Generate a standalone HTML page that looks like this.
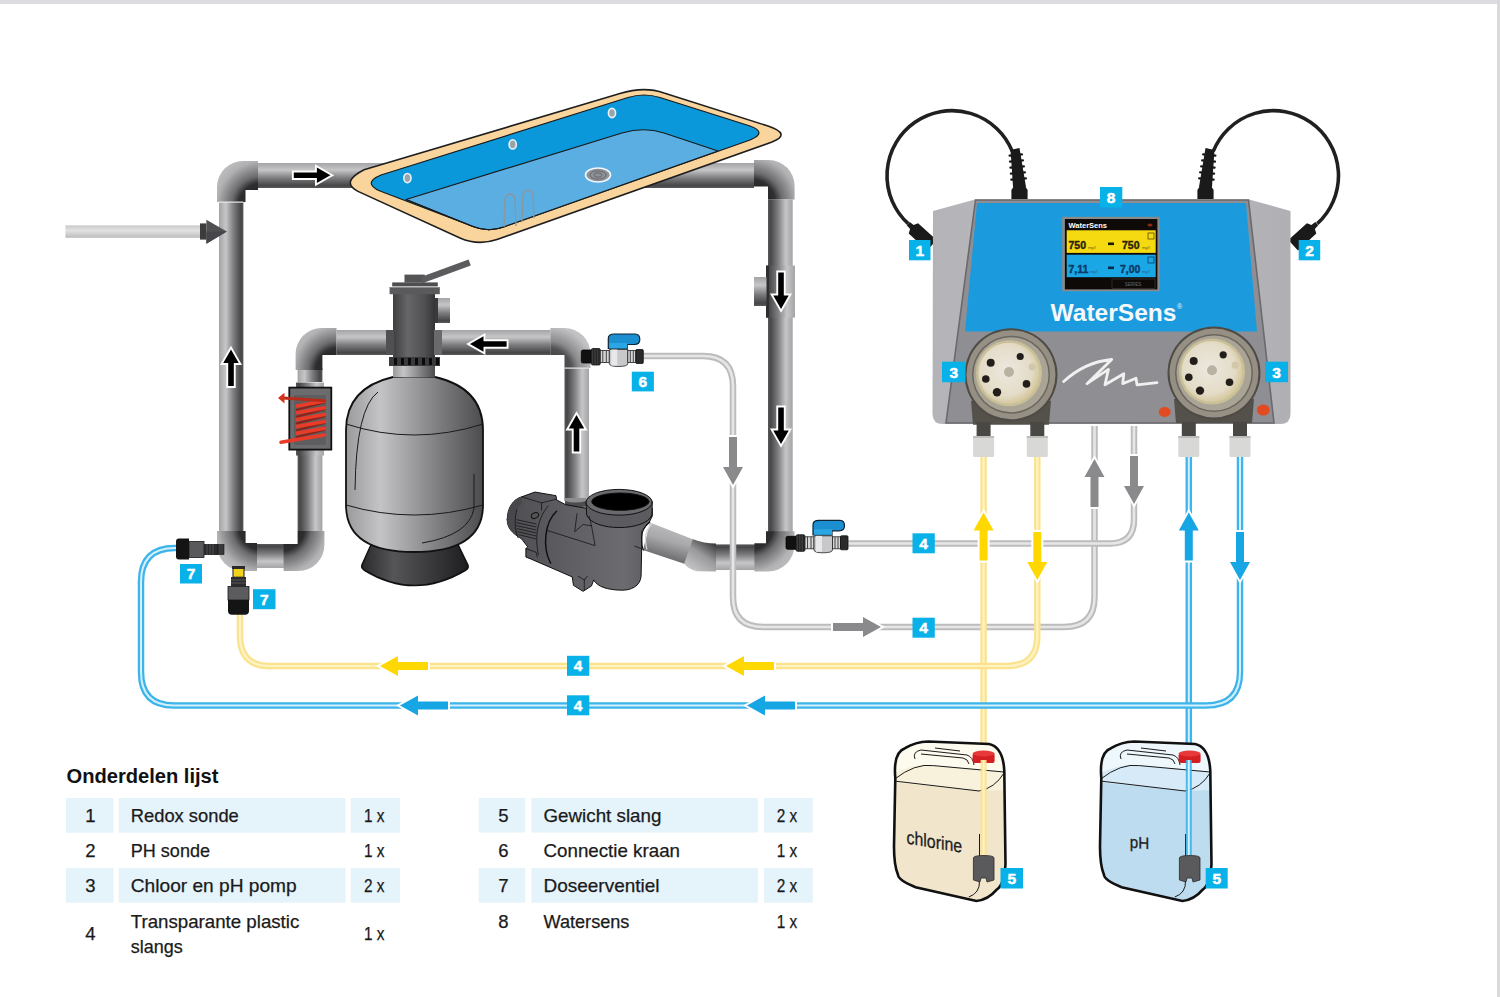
<!DOCTYPE html>
<html><head><meta charset="utf-8">
<style>
html,body{margin:0;padding:0;background:#fff;width:1500px;height:997px;overflow:hidden}
svg{display:block}
text{font-family:"Liberation Sans",sans-serif}
</style></head>
<body>
<svg width="1500" height="997" viewBox="0 0 1500 997">
<defs>
<linearGradient id="gH" x1="0" y1="0" x2="0" y2="1">
<stop offset="0" stop-color="#a4a4a6"/><stop offset="0.28" stop-color="#c6c6c8"/><stop offset="0.6" stop-color="#7c7c7e"/><stop offset="0.9" stop-color="#464649"/><stop offset="1" stop-color="#58585a"/>
</linearGradient>
<linearGradient id="gV" x1="0" y1="0" x2="1" y2="0">
<stop offset="0" stop-color="#a4a4a6"/><stop offset="0.28" stop-color="#c6c6c8"/><stop offset="0.6" stop-color="#7c7c7e"/><stop offset="0.9" stop-color="#464649"/><stop offset="1" stop-color="#58585a"/>
</linearGradient>
<linearGradient id="gVr" x1="1" y1="0" x2="0" y2="0">
<stop offset="0" stop-color="#a4a4a6"/><stop offset="0.28" stop-color="#c6c6c8"/><stop offset="0.6" stop-color="#7c7c7e"/><stop offset="0.9" stop-color="#464649"/><stop offset="1" stop-color="#58585a"/>
</linearGradient>
<linearGradient id="gE" x1="0" y1="0" x2="1" y2="1">
<stop offset="0" stop-color="#d2d2d3"/><stop offset="0.5" stop-color="#8a8a8c"/><stop offset="1" stop-color="#2c2c2e"/>
</linearGradient>
<linearGradient id="gEr" x1="1" y1="0" x2="0" y2="1">
<stop offset="0" stop-color="#d2d2d3"/><stop offset="0.5" stop-color="#8a8a8c"/><stop offset="1" stop-color="#2c2c2e"/>
</linearGradient>
<linearGradient id="gEb" x1="0" y1="1" x2="1" y2="0">
<stop offset="0" stop-color="#d2d2d3"/><stop offset="0.5" stop-color="#9a9a9c"/><stop offset="1" stop-color="#3c3c3e"/>
</linearGradient>
<linearGradient id="gTank" x1="0" y1="0" x2="1" y2="0">
<stop offset="0" stop-color="#9a9a9c"/><stop offset="0.25" stop-color="#c4c4c6"/><stop offset="0.7" stop-color="#7a7a7c"/><stop offset="1" stop-color="#4c4c4e"/>
</linearGradient>
<linearGradient id="gDark" x1="0" y1="0" x2="1" y2="0">
<stop offset="0" stop-color="#3a3a3c"/><stop offset="0.3" stop-color="#6a6a6c"/><stop offset="1" stop-color="#2c2c2e"/>
</linearGradient>
<linearGradient id="gRod" x1="0" y1="0" x2="0" y2="1">
<stop offset="0" stop-color="#c8c8c8"/><stop offset="0.4" stop-color="#e2e2e2"/><stop offset="1" stop-color="#bcbcbc"/>
</linearGradient>
</defs>

<!-- background frame -->
<rect x="0" y="0" width="1500" height="997" fill="#ffffff"/>
<rect x="0" y="0" width="1500" height="4" fill="#dcdce1"/>
<rect x="1497" y="0" width="3" height="997" fill="#d9d9d9"/>

<defs>
<radialGradient id="rTL" gradientUnits="userSpaceOnUse" cx="261.5" cy="206" r="64"><stop offset="0" stop-color="#1a1a1c"/><stop offset="0.36" stop-color="#2e2e30"/><stop offset="0.47" stop-color="#6c6c6e"/><stop offset="0.7" stop-color="#b2b2b4"/><stop offset="1" stop-color="#cdcdcf"/></radialGradient>
<radialGradient id="rBL" gradientUnits="userSpaceOnUse" cx="261.6" cy="527" r="64"><stop offset="0" stop-color="#1a1a1c"/><stop offset="0.36" stop-color="#2e2e30"/><stop offset="0.47" stop-color="#6c6c6e"/><stop offset="0.7" stop-color="#b2b2b4"/><stop offset="1" stop-color="#cdcdcf"/></radialGradient>
<radialGradient id="rBR" gradientUnits="userSpaceOnUse" cx="281.6" cy="528" r="64"><stop offset="0" stop-color="#1a1a1c"/><stop offset="0.36" stop-color="#2e2e30"/><stop offset="0.47" stop-color="#6c6c6e"/><stop offset="0.7" stop-color="#b2b2b4"/><stop offset="1" stop-color="#cdcdcf"/></radialGradient>
<radialGradient id="rML" gradientUnits="userSpaceOnUse" cx="338.4" cy="371" r="64"><stop offset="0" stop-color="#1a1a1c"/><stop offset="0.36" stop-color="#2e2e30"/><stop offset="0.47" stop-color="#6c6c6e"/><stop offset="0.7" stop-color="#b2b2b4"/><stop offset="1" stop-color="#cdcdcf"/></radialGradient>
<radialGradient id="rMR" gradientUnits="userSpaceOnUse" cx="548.5" cy="371" r="64"><stop offset="0" stop-color="#3a3a3c"/><stop offset="0.36" stop-color="#505052"/><stop offset="0.47" stop-color="#8a8a8c"/><stop offset="0.7" stop-color="#c0c0c2"/><stop offset="1" stop-color="#d4d4d6"/></radialGradient>
<radialGradient id="rTR" gradientUnits="userSpaceOnUse" cx="752" cy="202.6" r="64"><stop offset="0" stop-color="#1a1a1c"/><stop offset="0.36" stop-color="#2e2e30"/><stop offset="0.47" stop-color="#6c6c6e"/><stop offset="0.7" stop-color="#b2b2b4"/><stop offset="1" stop-color="#cdcdcf"/></radialGradient>
<radialGradient id="rRB" gradientUnits="userSpaceOnUse" cx="750" cy="527.3" r="64"><stop offset="0" stop-color="#1a1a1c"/><stop offset="0.36" stop-color="#2e2e30"/><stop offset="0.47" stop-color="#6c6c6e"/><stop offset="0.7" stop-color="#b2b2b4"/><stop offset="1" stop-color="#cdcdcf"/></radialGradient>
<linearGradient id="gHr" x1="0" y1="1" x2="0" y2="0">
<stop offset="0" stop-color="#a4a4a6"/><stop offset="0.28" stop-color="#c6c6c8"/><stop offset="0.6" stop-color="#7c7c7e"/><stop offset="0.9" stop-color="#464649"/><stop offset="1" stop-color="#58585a"/>
</linearGradient>
<path id="arw" d="M0,0 L-13.5,-7.75 L-13.5,-2.8 L-36.6,-2.8 L-36.6,2.8 L-13.5,2.8 L-13.5,7.75 Z"/>
</defs>
<g id="pipes">
<!-- top loop -->
<rect x="257" y="163" width="497" height="25" fill="url(#gH)"/>
<path d="M217,202 L217,187 A26,26 0 0 1 243,161 L258,161 L258,190 L245.5,190 L245.5,202 Z" fill="url(#rTL)"/>
<rect x="219" y="202" width="24.4" height="329" fill="url(#gV)"/>
<rect x="219" y="201.5" width="24.4" height="1.2" fill="#e8e8e8"/>
<path d="M754,160 L768.6,160 A26,26 0 0 1 794.6,186 L794.6,199.4 L768,199.4 L768,186.6 L754,186.6 Z" fill="url(#rTR)"/>
<rect x="768" y="199.4" width="24.7" height="333" fill="url(#gVr)"/>
<!-- tee on right pipe -->
<rect x="766" y="265.6" width="29" height="52" fill="url(#gVr)"/>
<rect x="766" y="265.6" width="3" height="52" fill="#2e2e30"/>
<rect x="754" y="277" width="12.5" height="29" fill="url(#gH)"/>
<!-- bottom left U -->
<path d="M217,531 L245.6,531 L245.6,543 L257,543 L257,571 L243,571 A26,26 0 0 1 217,545 Z" fill="url(#rBL)"/>
<rect x="257" y="544" width="27" height="24" fill="url(#gHr)"/>
<path d="M283.6,544 L297.6,544 L297.6,531 L324.4,531 L324.4,545 A26,26 0 0 1 298.4,571 L283.6,571 Z" fill="url(#rBR)"/>
<rect x="297.6" y="455" width="24.8" height="76" fill="url(#gVr)"/>
<rect x="296" y="450" width="28" height="5.5" fill="url(#gVr)"/>
<!-- above heater -->
<rect x="297.6" y="368" width="24.8" height="14" fill="url(#gV)"/>
<rect x="296" y="382.5" width="28" height="5" fill="url(#gVr)"/>
<path d="M295.6,370 L295.6,354 A26,26 0 0 1 321.6,328 L336.6,328 L336.6,355 L322.4,355 L322.4,370 Z" fill="url(#rML)"/>
<rect x="336.6" y="330" width="214" height="25" fill="url(#gH)"/>
<path d="M550.4,328 L564.5,328 A26,26 0 0 1 590.5,354 L590.5,368 L564.5,368 L564.5,355 L550.4,355 Z" fill="url(#rMR)"/>
<rect x="564.5" y="368" width="24.5" height="133" fill="url(#gVr)"/>
<rect x="564.5" y="367.5" width="24.5" height="1.2" fill="#e6e6e6"/>
<!-- bottom right -->
<rect x="716" y="544.4" width="39" height="25.6" fill="url(#gHr)"/>
<path d="M754.4,543.3 L766,543.3 L766,531.3 L794.5,531.3 L794.5,545 A26.4,26.4 0 0 1 768.1,571.4 L754.4,571.4 Z" fill="url(#rRB)"/>
<!-- inlet rod -->
<rect x="65.4" y="225.4" width="135" height="12.4" fill="url(#gRod)"/>
<rect x="200" y="223.4" width="6.4" height="16.2" fill="#3c3c3e"/>
<polygon points="206.4,219.8 226.8,231.4 206.4,243.8" fill="#505052"/>
<polygon points="206.4,231.4 226.8,231.4 206.4,243.8" fill="#46464a"/>
<!-- arrows -->
<g fill="#000" stroke="#fff" stroke-width="3.8" stroke-linejoin="miter" paint-order="stroke">
<use href="#arw" transform="translate(330.4,175.3)"/>
<use href="#arw" transform="translate(231,349.5) rotate(-90)"/>
<use href="#arw" transform="translate(470,344) rotate(180)"/>
<use href="#arw" transform="translate(576.5,415) rotate(-90)"/>
<use href="#arw" transform="translate(781,309) rotate(90)"/>
<use href="#arw" transform="translate(781,444) rotate(90)"/>
</g>
</g>
<g id="pool">
<path d="M364,169.7 L620,93.6 Q644,86 664,93 L768,126 Q792,134 772,142 L497,239.5 Q478,246 460,238 L358,191.4 Q340,182 364,169.7 Z" fill="#f9d49d" stroke="#1e1e1e" stroke-width="1.6"/>
<path d="M381,175 L628,97.5 Q644,92.5 660,97.5 L750,126 Q768,132.5 750,140 L505,226.5 Q489,233 473,226.5 L380,191 Q362,183 381,175 Z" fill="#0b98db" stroke="#1a1a1a" stroke-width="1.2"/>
<path d="M406,199.5 L622,133 Q644,126.5 664,133 L718,151 L505,226.5 Q489,233 473,226.5 Z" fill="#5aaee2" stroke="#1a1a1a" stroke-width="1.2" stroke-linejoin="round"/>
<path d="M505,226.5 Q489,233 473,226.5 L406,199.5" fill="none" stroke="#1a1a1a" stroke-width="1.2"/>
<!-- lights -->
<g stroke="#e8f4fa" stroke-width="1.6" fill="#9aa4aa">
<ellipse cx="407.4" cy="178.1" rx="3.6" ry="4.6"/>
<ellipse cx="512.7" cy="144.4" rx="3.6" ry="4.6"/>
<ellipse cx="612" cy="113" rx="3.6" ry="4.6"/>
</g>
<!-- drain -->
<ellipse cx="598" cy="175" rx="12.5" ry="7" fill="#8e9296" stroke="#f0f6fa" stroke-width="1.6"/>
<ellipse cx="598" cy="175" rx="8" ry="4.2" fill="none" stroke="#5a5e62" stroke-width="0.8"/>
<ellipse cx="598" cy="175" rx="4" ry="2.2" fill="none" stroke="#5a5e62" stroke-width="0.8"/>
<!-- ladder -->
<g fill="none" stroke="#8e959b" stroke-width="1.3">
<path d="M504,227 L505,198 Q510,190 515,198 L516,226"/>
<path d="M522,222 L523,194 Q528,186 533,194 L534,218"/>
</g>
</g>
<defs>
<linearGradient id="gCol" x1="0" y1="0" x2="1" y2="0">
<stop offset="0" stop-color="#3e3e40"/><stop offset="0.35" stop-color="#666668"/><stop offset="0.75" stop-color="#505052"/><stop offset="1" stop-color="#353537"/>
</linearGradient>
<linearGradient id="gBase" x1="0" y1="0" x2="1" y2="0">
<stop offset="0" stop-color="#2a2a2c"/><stop offset="0.3" stop-color="#555557"/><stop offset="1" stop-color="#1e1e20"/>
</linearGradient>
</defs>
<g id="filter">
<!-- heater -->
<rect x="289.3" y="387.6" width="42" height="62" fill="#6c6c6e" stroke="#111" stroke-width="1.8"/>
<rect x="294" y="395" width="32" height="50" fill="#5e5e60"/>
<g stroke="#8a2418" stroke-width="2.2" stroke-linecap="round" fill="none"><path d="M324.5,402.5 L297,409.8"/><path d="M324.5,409.3 L297,416.6"/><path d="M324.5,416.1 L297,423.4"/><path d="M324.5,422.9 L297,430.2"/><path d="M324.5,429.7 L297,437.0"/></g>
<g stroke="#ea3a28" stroke-width="3.6" stroke-linecap="round" fill="none"><path d="M297,406.0 L324.5,401.0"/><path d="M297,412.8 L324.5,407.8"/><path d="M297,419.6 L324.5,414.6"/><path d="M297,426.4 L324.5,421.4"/><path d="M297,433.2 L324.5,428.2"/>
<path d="M281,442.3 L324.5,435"/>
</g>
<path d="M283,398 L324.5,400.7" stroke="#b82a1a" stroke-width="3" stroke-linecap="round"/>
<polygon points="278,397.9 284.5,392.8 284.5,403.4" fill="#d8321e"/>
<!-- base -->
<path d="M371.5,543.8 L457.6,543.8 L467.9,565 Q469,568 466,570 Q414,601 364,570 Q361,568 361.9,565 Z" fill="url(#gBase)" stroke="#111" stroke-width="1.5"/>
<!-- tank -->
<path d="M393,377 L435,377 Q483,388 483,430 L483,505 Q483,552 414,552 Q346,552 346,505 L346,430 Q346,388 393,377 Z" fill="url(#gTank)" stroke="#111" stroke-width="1.8"/>
<g fill="none" stroke="#1a1a1a" stroke-width="1">
<path d="M346,424 Q414,446 483,424"/>
<path d="M346,505 Q414,525 483,505"/>
<path d="M378,392 Q356,408 355,490"/>
<path d="M474,474 L474,508 Q470,535 422,543"/>
</g>
<!-- neck and valve -->
<rect x="393" y="294" width="42" height="84" fill="url(#gCol)"/>
<rect x="386" y="330" width="8" height="25" fill="#505052"/>
<rect x="434" y="330" width="8" height="25" fill="#6a6a6c"/>
<rect x="389" y="357" width="51" height="9" fill="#3a3a3c"/>
<g fill="#0a0a0a"><rect x="394" y="358" width="3" height="7"/><rect x="401" y="358" width="3" height="7"/><rect x="408" y="358" width="3" height="7"/><rect x="415" y="358" width="3" height="7"/><rect x="422" y="358" width="3" height="7"/><rect x="429" y="358" width="3" height="7"/><rect x="436" y="358" width="3" height="7"/></g>
<rect x="393" y="366" width="42" height="11" fill="url(#gTank)"/>
<rect x="435" y="298" width="15" height="25" fill="url(#gH)"/><rect x="435" y="298" width="3" height="25" fill="#3a3a3c"/>
<rect x="389.6" y="287" width="50.2" height="7.2" fill="#5a5a5c"/>
<rect x="389.6" y="287" width="50.2" height="1" fill="#8a8a8c"/>
<rect x="392.2" y="282.4" width="45.6" height="4" fill="#4e4e50"/>
<rect x="404.5" y="274.6" width="20.3" height="8" fill="#545456"/>
<path d="M422,280 L469.7,262.5" stroke="#5c5c5e" stroke-width="6.5" stroke-linecap="butt"/>
</g>
<defs>
<linearGradient id="gOut" x1="0" y1="0" x2="0.3" y2="1">
<stop offset="0" stop-color="#c4c4c6"/><stop offset="0.5" stop-color="#a6a6a8"/><stop offset="1" stop-color="#7a7a7c"/>
</linearGradient>
<linearGradient id="gPump" x1="0" y1="0" x2="1" y2="0">
<stop offset="0" stop-color="#4e4e52"/><stop offset="0.45" stop-color="#606064"/><stop offset="0.8" stop-color="#6c6c70"/><stop offset="1" stop-color="#5c5c60"/>
</linearGradient>
</defs>
<g id="pump">
<!-- outlet angled pipe -->
<g transform="translate(500,480) scale(0.12039)" stroke="#0e0e0e" stroke-width="8" stroke-linejoin="round" stroke-linecap="round">
<path d="M540,215 L540,150 L715,150 L715,240 Z" fill="#8e8e90" stroke="none"/>
<path d="M540,175 Q628,200 715,175 L715,215 Q628,240 540,215 Z" fill="#4c4c4e" stroke="none"/>
<path d="M60,330 C60,230 110,160 180,140 L290,100 L465,130 L470,165 L545,205 L715,235 L1265,235 L1265,300 L1240,350 L1180,420 L1172,800 C1165,880 1090,920 1000,915 C900,912 810,890 778,830 L760,880 L690,925 L610,875 L600,805 L265,660 L215,640 L215,570 L230,555 L180,490 C100,440 60,400 60,330 Z" fill="url(#gPump)"/>
<path d="M60,330 C60,230 110,160 180,140 L180,200 C130,240 120,300 130,380 C140,430 160,470 180,490 C100,440 60,400 60,330 Z" fill="#48484c" stroke="none"/>
<path d="M715,185 L720,290 C770,430 1210,430 1262,290 L1265,185 Z" fill="#5c5c60"/>
<ellipse cx="990" cy="185" rx="275" ry="107" fill="#6a6a6e"/>
<ellipse cx="1000" cy="180" rx="238" ry="72" fill="#000"/>
<g fill="none" stroke-width="6">
<path d="M180,140 L345,190 L465,160"/>
<path d="M345,190 L345,250"/>
<path d="M140,250 C120,300 120,420 150,480"/>
<path d="M140,330 L300,365 M140,355 L300,390 M140,380 L300,415 M145,405 L300,440 M150,430 L300,465 M160,455 L300,490"/>
<path d="M400,215 C300,330 290,500 320,620" />
<path d="M470,260 C370,350 350,560 420,690" stroke-width="12"/>
<path d="M395,420 L790,545 L760,380 L740,300"/>
<path d="M640,280 L620,430 L690,370 L760,380"/>
<path d="M215,570 L300,600 L310,640"/>
<path d="M650,800 L700,830 L725,800 M700,830 L700,915"/>
<path d="M1120,550 L1200,580"/>
</g>
<ellipse cx="290" cy="295" rx="32" ry="22" fill="#555558" transform="rotate(-28 290 295)"/>
</g>
<defs>
<linearGradient id="gAng" gradientUnits="userSpaceOnUse" x1="670" y1="529" x2="662" y2="557">
<stop offset="0" stop-color="#b8b8ba"/><stop offset="0.4" stop-color="#a8a8aa"/><stop offset="1" stop-color="#6e6e70"/>
</linearGradient>
<linearGradient id="gCollar" gradientUnits="userSpaceOnUse" x1="712" y1="542" x2="692" y2="572">
<stop offset="0" stop-color="#3a3a3c"/><stop offset="0.45" stop-color="#9a9a9c"/><stop offset="1" stop-color="#c8c8ca"/>
</linearGradient>
</defs>
<polygon points="650,522.5 696,540.5 688,565 643,550" fill="url(#gAng)"/>
<path d="M692.8,539.2 Q704,543.4 716,543.4 L716,571.6 L697,571.2 Q688,569.5 684.2,563.6 Z" fill="url(#gCollar)"/>
<path d="M650,522 Q642,528 641.5,537 Q641.5,546 643.5,550.5" fill="none" stroke="#111" stroke-width="1.1"/>
<path d="M652,523.5 Q646,530 645.5,537 Q645.5,545 647,549.5" fill="none" stroke="#d8d8d8" stroke-width="1.2"/>
</g>

<defs>
<path id="ta" d="M0,0 L-18,-10 L-18,-4 L-48,-4 L-48,4 L-18,4 L-18,10 Z"/>
</defs>
<g id="tubes" fill="none">
<!-- grey tubes -->
<g stroke-linecap="butt">
<path d="M643,356 L703,356 Q733,356 733,386 L733,597 Q733,627 763,627 L1064,627 Q1094.5,627 1094.5,597 L1094.5,426" stroke="#bcbcbc" stroke-width="6.5"/>
<path d="M643,356 L703,356 Q733,356 733,386 L733,597 Q733,627 763,627 L1064,627 Q1094.5,627 1094.5,597 L1094.5,426" stroke="#e6e6e6" stroke-width="2.6"/>
<path d="M845,543.5 L1110,543.5 Q1134,543.5 1134,519.5 L1134,426" stroke="#bcbcbc" stroke-width="6.5"/>
<path d="M845,543.5 L1110,543.5 Q1134,543.5 1134,519.5 L1134,426" stroke="#e6e6e6" stroke-width="2.6"/>
</g>
<!-- yellow tubes -->
<path d="M983.6,457 L983.6,760" stroke="#fbe38e" stroke-width="6.5"/>
<path d="M983.6,457 L983.6,760" stroke="#fff3c4" stroke-width="2.2"/>
<path d="M1037.3,457 L1037.3,636 Q1037.3,666 1007,666 L270,666 Q240,666 240,636 L240,614" stroke="#fbe38e" stroke-width="6.5"/>
<path d="M1037.3,457 L1037.3,636 Q1037.3,666 1007,666 L270,666 Q240,666 240,636 L240,614" stroke="#fff3c4" stroke-width="2.2"/>
<!-- blue tubes -->
<path d="M1188.8,457 L1188.8,760" stroke="#3db4ea" stroke-width="6.5"/>
<path d="M1188.8,457 L1188.8,760" stroke="#d4f0fc" stroke-width="2"/>
<path d="M1240,457 L1240,672 Q1240,705.5 1206,705.5 L174,705.5 Q141,705.5 141,672 L141,582 Q141,548 175,548 L178,548" stroke="#3db4ea" stroke-width="6.5"/>
<path d="M1240,457 L1240,672 Q1240,705.5 1206,705.5 L174,705.5 Q141,705.5 141,672 L141,582 Q141,548 175,548 L178,548" stroke="#d4f0fc" stroke-width="2"/>
</g>
<g id="tubearrows" stroke="#fff" stroke-width="4" paint-order="stroke" stroke-linejoin="miter">
<g fill="#8a8a8c">
<use href="#ta" transform="translate(733,485) rotate(90)"/>
<use href="#ta" transform="translate(1094.5,459) rotate(-90)"/>
<use href="#ta" transform="translate(1134,504) rotate(90)"/>
<use href="#ta" transform="translate(881,627)"/>
</g>
<g fill="#fed800">
<use href="#ta" transform="translate(983.6,512.6) rotate(-90)"/>
<use href="#ta" transform="translate(1037.3,580) rotate(90)"/>
<use href="#ta" transform="translate(380,666) rotate(180)"/>
<use href="#ta" transform="translate(726,666) rotate(180)"/>
</g>
<g fill="#17a6e4">
<use href="#ta" transform="translate(1188.8,512.6) rotate(-90)"/>
<use href="#ta" transform="translate(1240,580) rotate(90)"/>
<use href="#ta" transform="translate(400,705.5) rotate(180)"/>
<use href="#ta" transform="translate(747,705.5) rotate(180)"/>
</g>
</g>
<defs>
<linearGradient id="gBody" x1="0" y1="0" x2="1" y2="0">
<stop offset="0" stop-color="#b4b4b8"/><stop offset="0.5" stop-color="#bdbdc1"/><stop offset="1" stop-color="#b0b0b4"/>
</linearGradient>
<radialGradient id="gRotor" cx="0.45" cy="0.45" r="0.6">
<stop offset="0" stop-color="#ece8de"/><stop offset="0.7" stop-color="#e4dcc8"/><stop offset="1" stop-color="#cfc290"/>
</radialGradient>
<g id="phead">
<path d="M-40,26 L40,26 L38,50 L-38,50 Z" fill="#54504a"/>
<circle cx="0" cy="0" r="46.5" fill="#4e4a45"/>
<circle cx="0" cy="0" r="44.5" fill="#958f84"/>
<circle cx="0" cy="0" r="39" fill="#6a665e"/><circle cx="0" cy="0" r="37.5" fill="#aaa496"/>
<circle cx="-2" cy="-1.5" r="33" fill="#c9bf98"/>
<circle cx="-2" cy="-1.5" r="30.5" fill="url(#gRotor)"/>
<g fill="#221e1a">
<circle cx="-20.3" cy="-11.9" r="4"/><circle cx="-25.2" cy="4.3" r="3.8"/><circle cx="-14" cy="17.6" r="4.2"/>
<circle cx="9.2" cy="-18.2" r="3.6"/><circle cx="15.5" cy="9.2" r="3.8"/>
</g>
<circle cx="21.1" cy="-7.7" r="3.5" fill="#d0c8a8"/>
<circle cx="-2" cy="-2.7" r="5" fill="#b8b2a2"/>
</g>
</defs>
<g id="controller">
<!-- cables -->
<g fill="none" stroke="#202020" stroke-width="3.6">
<path d="M1012.3,151.4 A65,65 0 1 0 908.2,223.7"/>
<path d="M1213.2,151.4 A65,65 0 1 1 1317.3,223.7"/>
</g>
<g fill="#1a1a1a">
<polygon points="906.7,225.3 910.1,229.0 908.7,233.6 927.1,250.4 936.6,240.1 918.1,223.2 913.6,225.1 909.7,222.1"/>
<polygon points="1318.3,225.3 1314.9,229.0 1316.3,233.6 1297.9,250.4 1288.4,240.1 1306.9,223.2 1311.4,225.1 1315.3,222.1"/>
<polygon points="1010.5,150 1019.5,148 1026,187 1013,187"/>
<polygon points="1214.5,150 1205.5,148 1199,187 1212,187"/>
<polygon points="1011.4,199 1011.4,190 1014,186 1025,186 1027.6,190 1027.6,199"/>
<polygon points="1213.6,199 1213.6,190 1211,186 1200,186 1197.4,190 1197.4,199"/>
</g>
<g stroke="#1a1a1a" stroke-width="2.2" stroke-linecap="round">
<path d="M1009.6,155.6 L1021.9,154.4"/><path d="M1215.4,155.6 L1203.1,154.4"/>
<path d="M1010.0,161.6 L1022.9,160.4"/><path d="M1215.0,161.6 L1202.1,160.4"/>
<path d="M1010.4,167.6 L1023.9,166.4"/><path d="M1214.6,167.6 L1201.1,166.4"/>
<path d="M1010.9,173.6 L1024.9,172.4"/><path d="M1214.1,173.6 L1200.1,172.4"/>
<path d="M1011.3,179.6 L1025.9,178.4"/><path d="M1213.7,179.6 L1199.1,178.4"/>
</g>
<!-- body -->
<path d="M933,211 L975,199.5 L1249,199.5 L1290.5,211 L1290.5,414 Q1290.5,424 1280,424 L943,424 Q932.5,424 932.5,414 Z" fill="url(#gBody)"/>
<path d="M975.5,200 L1248.5,200 L1274,423 L946,423 Z" fill="#8f8f93" stroke="#6a6a6e" stroke-width="1.6"/>
<path d="M977,203 L1246,203 L1257,331.5 L965,331.5 Z" fill="#1b9bdd"/>
<!-- screen -->
<rect x="1062.2" y="216.8" width="97.5" height="74.4" fill="#8a8a8a"/>
<rect x="1064.9" y="219" width="92.5" height="70.4" fill="#0e0a08"/>
<rect x="1066.7" y="230.3" width="89" height="22.6" fill="#f5da12"/>
<rect x="1066.7" y="254.7" width="89" height="22.5" fill="#1aa7e5"/>
<rect x="1112" y="279" width="43" height="9.5" fill="none" stroke="#3a3a3a" stroke-width="0.7"/><text x="1133" y="286" font-size="4.5" fill="#6a6a6a" text-anchor="middle">SERIES</text><ellipse cx="1150" cy="225" rx="2.5" ry="1.5" fill="#8a2a10"/>
<text x="1068.5" y="227.5" font-size="7.5" font-weight="bold" fill="#fff">WaterSens</text>
<text x="1068.5" y="248.5" font-size="10.5" font-weight="bold" fill="#2a2408" stroke="#2a2408" stroke-width="0.4">750</text>
<text x="1088" y="248.5" font-size="4" fill="#6a5a10">mg/l</text>
<rect x="1108" y="242.5" width="6" height="2.6" fill="#1a1a08"/>
<text x="1122" y="248.5" font-size="10.5" font-weight="bold" fill="#2a2408" stroke="#2a2408" stroke-width="0.4">750</text>
<text x="1142" y="248.5" font-size="4" fill="#6a5a10">mg/l</text>
<rect x="1148" y="233" width="6" height="6" fill="none" stroke="#5a4a08" stroke-width="0.8"/>
<text x="1068.5" y="272.5" font-size="10.5" font-weight="bold" fill="#0a3a6a" stroke="#0a3a6a" stroke-width="0.4">7,11</text>
<text x="1090" y="272.5" font-size="4" fill="#2a5a8a">mg/l</text>
<rect x="1108" y="266.5" width="6" height="2.6" fill="#0a2a4a"/>
<text x="1120" y="272.5" font-size="10.5" font-weight="bold" fill="#0a3a6a" stroke="#0a3a6a" stroke-width="0.4">7,00</text>
<text x="1142" y="272.5" font-size="4" fill="#2a5a8a">mg/l</text>
<rect x="1148" y="257" width="6" height="6" fill="none" stroke="#0a3a6a" stroke-width="0.8"/>
<!-- logo -->
<text x="1050.5" y="321.4" font-size="24" font-weight="bold" fill="#f4f8fb" textLength="126" lengthAdjust="spacingAndGlyphs">WaterSens</text>
<text x="1177" y="309" font-size="7" fill="#f4f8fb">®</text>
<!-- swoosh -->
<path d="M1063.7,381.5 Q1085,362 1111.7,359.5 L1087,383.7 L1108.4,369.4 L1105,384.8 L1123.8,373.8 L1122.7,383.7 L1136,378.2 L1137,384.8 L1157,382.6" fill="none" stroke="#f0f0f0" stroke-width="2.8" stroke-linejoin="round" stroke-linecap="round"/>
<!-- red buttons -->
<g fill="#e24a22">
<ellipse cx="1164.7" cy="412" rx="6" ry="5"/>
<ellipse cx="1263.3" cy="410" rx="6.5" ry="5.5"/>
</g>
<!-- pump heads -->
<use href="#phead" transform="translate(1011,374.7)"/>
<use href="#phead" transform="translate(1214,373)"/>
<rect x="976.6" y="422" width="14" height="15" fill="#4a4844"/><rect x="973.1" y="436" width="21" height="21" rx="1.5" fill="#d8d8d6"/><rect x="973.1" y="436" width="21" height="2" fill="#bcbcba"/>
<rect x="1030.3" y="422" width="14" height="15" fill="#4a4844"/><rect x="1026.8" y="436" width="21" height="21" rx="1.5" fill="#d8d8d6"/><rect x="1026.8" y="436" width="21" height="2" fill="#bcbcba"/>
<rect x="1181.8" y="422" width="14" height="15" fill="#4a4844"/><rect x="1178.3" y="436" width="21" height="21" rx="1.5" fill="#d8d8d6"/><rect x="1178.3" y="436" width="21" height="2" fill="#bcbcba"/>
<rect x="1233.0" y="422" width="14" height="15" fill="#4a4844"/><rect x="1229.5" y="436" width="21" height="21" rx="1.5" fill="#d8d8d6"/><rect x="1229.5" y="436" width="21" height="2" fill="#bcbcba"/>

</g>
<defs>
<clipPath id="canClip">
<path d="M895.3,778 Q893,752 905.5,747.9 Q915,742 928.3,741.5 L989,744 Q1003,747 1004.3,770.7 L1005.5,864.4 Q1004,885 996.7,889.7 Q988,900 976.4,901 L915.6,887.2 Q898,880 897.9,874.5 Q894,865 894,846.7 Z"/>
</clipPath>
<g id="can">
<path d="M895.3,778 Q893,752 905.5,747.9 Q915,742 928.3,741.5 L989,744 Q1003,747 1004.3,770.7 L1005.5,864.4 Q1004,885 996.7,889.7 Q988,900 976.4,901 L915.6,887.2 Q898,880 897.9,874.5 Q894,865 894,846.7 Z" fill="var(--top)"/>
<g clip-path="url(#canClip)">
<path d="M880,780 Q915,762 933,765.6 L1010,772 L1010,920 L880,920 Z" fill="var(--liq)"/>
<path d="M880,780 Q915,762 933,765.6 L1010,772 L1010,790 L979,791 L880,781 Z" fill="var(--surf)"/>
</g>
<g fill="none" stroke="#1a1a1a" stroke-width="1">
<path d="M894,779.5 Q915,763 933.3,765.6 L1004,772"/>
<path d="M894,781 L979,791 Q995,788 1004,773"/>
<path d="M915,759 Q912,752 921,750 L967,755 Q973,757 974,765"/>
<path d="M921,754 L963,758 Q968,759 969,764"/>
<path d="M935,748 L960,751"/>
<path d="M979.5,834 L979.5,856"/>
<path d="M979.5,881 Q980,893 968.8,897"/>
</g>
<path d="M895.3,778 Q893,752 905.5,747.9 Q915,742 928.3,741.5 L989,744 Q1003,747 1004.3,770.7 L1005.5,864.4 Q1004,885 996.7,889.7 Q988,900 976.4,901 L915.6,887.2 Q898,880 897.9,874.5 Q894,865 894,846.7 Z" fill="none" stroke="#111" stroke-width="2.6"/>
<!-- weight -->
<path d="M973.4,858 Q973.4,855.5 984,855.5 Q994,855.5 994,858 L994,880 L987,882 L986,878 L981,878 L980,882 L973.4,880 Z" fill="#5a5a5c" stroke="#2a2a2a" stroke-width="0.8"/>
<!-- cap -->
<rect x="972.6" y="753" width="22" height="10" rx="2" fill="#d41e22"/>
<ellipse cx="983.6" cy="753.5" rx="11" ry="3" fill="#e8383a"/>
</g>
</defs>
<g id="canisters">
<use href="#can" style="--top:#fdfbee;--liq:#f1e5cb;--surf:#f8f2dc"/>
<path d="M983.6,760 L983.6,855" stroke="#fbe38e" stroke-width="6" opacity="0.9"/>
<path d="M983.6,760 L983.6,855" stroke="#fff3c4" stroke-width="2"/>
<use href="#can" transform="translate(206,0)" style="--top:#eef7fc;--liq:#bedcef;--surf:#d6ebf7"/>
<path d="M1188.8,760 L1188.8,855" stroke="#3db4ea" stroke-width="6" opacity="0.9"/>
<path d="M1188.8,760 L1188.8,855" stroke="#d4f0fc" stroke-width="2"/>
<text x="0" y="0" font-size="18.5" fill="#1e1e1e" stroke="#1e1e1e" stroke-width="0.3" transform="translate(906.5,843.5) skewY(9.5)" textLength="55.7" lengthAdjust="spacingAndGlyphs">chlorine</text>
<text x="0" y="0" font-size="16.5" fill="#1e1e1e" stroke="#1e1e1e" stroke-width="0.3" transform="translate(1129.8,847.5) skewY(5)" textLength="19.5" lengthAdjust="spacingAndGlyphs">pH</text>
</g>
<defs>
<g id="valve">
<!-- origin: left end, center y; length ~62 -->
<path d="M0,-5 Q0,-6.5 2,-6.5 L10,-6.5 L10,6.5 L2,6.5 Q0,6.5 0,5 Z" fill="#111" stroke="#000" stroke-width="0.8"/>
<rect x="10" y="-8" width="9" height="16.5" rx="1.5" fill="#3c3c3e" stroke="#111" stroke-width="0.8"/>
<g stroke="#1a1a1a" stroke-width="0.8"><path d="M12.5,-8 L12.5,8.5 M15,-8 L15,8.5 M17.5,-8 L17.5,8.5"/></g>
<rect x="19" y="-6" width="9" height="12" fill="#d6d6d6" stroke="#222" stroke-width="0.8"/>
<g stroke="#333" stroke-width="0.9"><path d="M21.5,-6 L21.5,6 M25,-6 L25,6"/></g>
<path d="M28,-7 L46.5,-7 L46.5,7 Q46.5,10 37,10 Q28,10 28,7 Z" fill="#c8c8ca" stroke="#222" stroke-width="0.8"/>
<rect x="30" y="-7" width="6" height="16" fill="#e8e8ea"/>
<rect x="46.5" y="-6" width="8" height="12" fill="#d6d6d6" stroke="#222" stroke-width="0.8"/>
<g stroke="#333" stroke-width="0.9"><path d="M49,-6 L49,6 M52,-6 L52,6"/></g>
<rect x="54.5" y="-7" width="7.5" height="14" rx="1" fill="#2a2a2c" stroke="#111" stroke-width="0.8"/>
<path d="M27,-8 L27,-18 Q27,-22.5 33,-22.5 L54,-22.5 Q58.5,-22.5 58.5,-17 Q58.5,-12 53,-12 L46,-12 L46,-8 Z" fill="#1b8fd0" stroke="#0f2436" stroke-width="1.2"/>
<path d="M28,-13.5 L46,-13.5 L46,-8 L28,-8 Z" fill="#2aa6e4"/>
</g>
<g id="chk">
<!-- check valve horizontal, origin left-center -->
<path d="M0,-8 Q0,-11 3,-11 L13,-11 L13,10 L3,10 Q0,10 0,7 Z" fill="#141414"/>
<rect x="13" y="-8" width="15" height="16" fill="#5a5a5c" stroke="#1a1a1a" stroke-width="0.8"/>
<rect x="28" y="-5.5" width="14" height="11" fill="#2a2a2c"/>
<g stroke="#5a5a5a" stroke-width="0.8"><path d="M31,-5.5 L31,5.5 M34,-5.5 L34,5.5 M37,-5.5 L37,5.5"/></g>
<rect x="42" y="-5" width="6" height="10" fill="#3a3a3c" stroke="#111" stroke-width="0.6"/>
</g>
<g id="bd">
<rect x="0" y="0" width="22.3" height="20" fill="#09b1e9"/>
</g>
</defs>
<g id="valves">
<use href="#valve" transform="translate(581.3,356.5)"/>
<use href="#valve" transform="translate(786,542.8)"/>
<use href="#chk" transform="translate(176,549.5)"/>
<!-- vertical doser 7 -->
<g>
<rect x="233" y="566.7" width="11" height="10.5" fill="#f2d21a" stroke="#1a1a1a" stroke-width="1"/>
<rect x="232" y="566" width="13" height="3" fill="#2a2a2a"/>
<rect x="231" y="577" width="15" height="9.5" fill="#2c2c2e"/>
<g stroke="#666" stroke-width="0.8"><path d="M231,580 L246,580 M231,583 L246,583"/></g>
<rect x="228" y="586.5" width="21" height="13.5" fill="#5c5c5e" stroke="#1a1a1a" stroke-width="0.8"/>
<path d="M228,600 L249,600 L249,611 Q249,614.7 245,614.7 L232,614.7 Q228,614.7 228,611 Z" fill="#141414"/>
</g>
</g>
<g id="badges" font-weight="bold" font-size="15.5" fill="#fff" stroke="#fff" stroke-width="0.5" text-anchor="middle">
<g fill="#09b1e9" stroke="none">
<rect x="909" y="240" width="21.5" height="20.3"/>
<rect x="1298.7" y="240" width="21.5" height="20.3"/>
<rect x="1100" y="187" width="22.3" height="20.5"/>
<rect x="942" y="361.7" width="23.5" height="20.5"/>
<rect x="1265" y="361.7" width="23" height="20.5"/>
<rect x="631.8" y="371.7" width="22.1" height="19.7"/>
<rect x="912.5" y="533.3" width="22.3" height="20"/>
<rect x="912.5" y="617.7" width="22.3" height="20"/>
<rect x="567" y="655.8" width="22.3" height="20"/>
<rect x="567" y="695.3" width="22.3" height="20"/>
<rect x="180" y="564" width="22" height="19.5"/>
<rect x="253" y="589.2" width="22.5" height="20"/>
<rect x="1000.5" y="868" width="22.5" height="20.5"/>
<rect x="1205.7" y="868" width="22" height="20.5"/>
</g>
<text x="919.75" y="255.5">1</text>
<text x="1309.45" y="255.5">2</text>
<text x="1111.15" y="202.5">8</text>
<text x="953.75" y="377.5">3</text>
<text x="1276.5" y="377.5">3</text>
<text x="642.85" y="387">6</text>
<text x="923.65" y="549">4</text>
<text x="923.65" y="633.2">4</text>
<text x="578.15" y="671.3">4</text>
<text x="578.15" y="710.8">4</text>
<text x="191" y="579.3">7</text>
<text x="264.25" y="604.7">7</text>
<text x="1011.75" y="883.7">5</text>
<text x="1216.7" y="883.7">5</text>
</g>
<g id="table" fill="#1a1a1a">
<text x="66.5" y="783.3" font-size="20" font-weight="bold" fill="#111" textLength="152" lengthAdjust="spacingAndGlyphs">Onderdelen lijst</text>
<g fill="#e5f3fb">
<rect x="66" y="798" width="47.5" height="34.7"/><rect x="118.8" y="798" width="226.7" height="34.7"/><rect x="350.8" y="798" width="49.2" height="34.7"/>
<rect x="66" y="868" width="47.5" height="34.7"/><rect x="118.8" y="868" width="226.7" height="34.7"/><rect x="350.8" y="868" width="49.2" height="34.7"/>
<rect x="478.7" y="798" width="46.6" height="34.5"/><rect x="531.5" y="798" width="226.4" height="34.5"/><rect x="764" y="798" width="48.8" height="34.5"/>
<rect x="478.7" y="868" width="46.6" height="34.7"/><rect x="531.5" y="868" width="226.4" height="34.7"/><rect x="764" y="868" width="48.8" height="34.7"/>
</g>
<g font-size="18.5" fill="#1a1a1a" stroke="#1a1a1a" stroke-width="0.25">
<text x="90.5" y="822" text-anchor="middle">1</text>
<text x="130.8" y="822" textLength="108" lengthAdjust="spacingAndGlyphs">Redox sonde</text>
<text x="364" y="822" textLength="20.5" lengthAdjust="spacingAndGlyphs">1 x</text>
<text x="90.5" y="857" text-anchor="middle">2</text>
<text x="130.8" y="857" textLength="79.2" lengthAdjust="spacingAndGlyphs">PH sonde</text>
<text x="364" y="857" textLength="20.5" lengthAdjust="spacingAndGlyphs">1 x</text>
<text x="90.5" y="892" text-anchor="middle">3</text>
<text x="130.8" y="892" textLength="165.9" lengthAdjust="spacingAndGlyphs">Chloor en pH pomp</text>
<text x="364" y="892" textLength="20.5" lengthAdjust="spacingAndGlyphs">2 x</text>
<text x="90.5" y="940" text-anchor="middle">4</text>
<text x="130.8" y="928" textLength="168.5" lengthAdjust="spacingAndGlyphs">Transparante plastic</text>
<text x="130.8" y="953" textLength="52" lengthAdjust="spacingAndGlyphs">slangs</text>
<text x="364" y="940" textLength="20.5" lengthAdjust="spacingAndGlyphs">1 x</text>
<text x="503.5" y="822" text-anchor="middle">5</text>
<text x="543.5" y="822" textLength="117.9" lengthAdjust="spacingAndGlyphs">Gewicht slang</text>
<text x="776.8" y="822" textLength="20.5" lengthAdjust="spacingAndGlyphs">2 x</text>
<text x="503.5" y="857" text-anchor="middle">6</text>
<text x="543.5" y="857" textLength="136.5" lengthAdjust="spacingAndGlyphs">Connectie kraan</text>
<text x="776.8" y="857" textLength="20.5" lengthAdjust="spacingAndGlyphs">1 x</text>
<text x="503.5" y="892" text-anchor="middle">7</text>
<text x="543.5" y="892" textLength="116" lengthAdjust="spacingAndGlyphs">Doseerventiel</text>
<text x="776.8" y="892" textLength="20.5" lengthAdjust="spacingAndGlyphs">2 x</text>
<text x="503.5" y="928" text-anchor="middle">8</text>
<text x="543.5" y="928" textLength="85.9" lengthAdjust="spacingAndGlyphs">Watersens</text>
<text x="776.8" y="928" textLength="20.5" lengthAdjust="spacingAndGlyphs">1 x</text>
</g>
</g>
</svg>
</body></html>
